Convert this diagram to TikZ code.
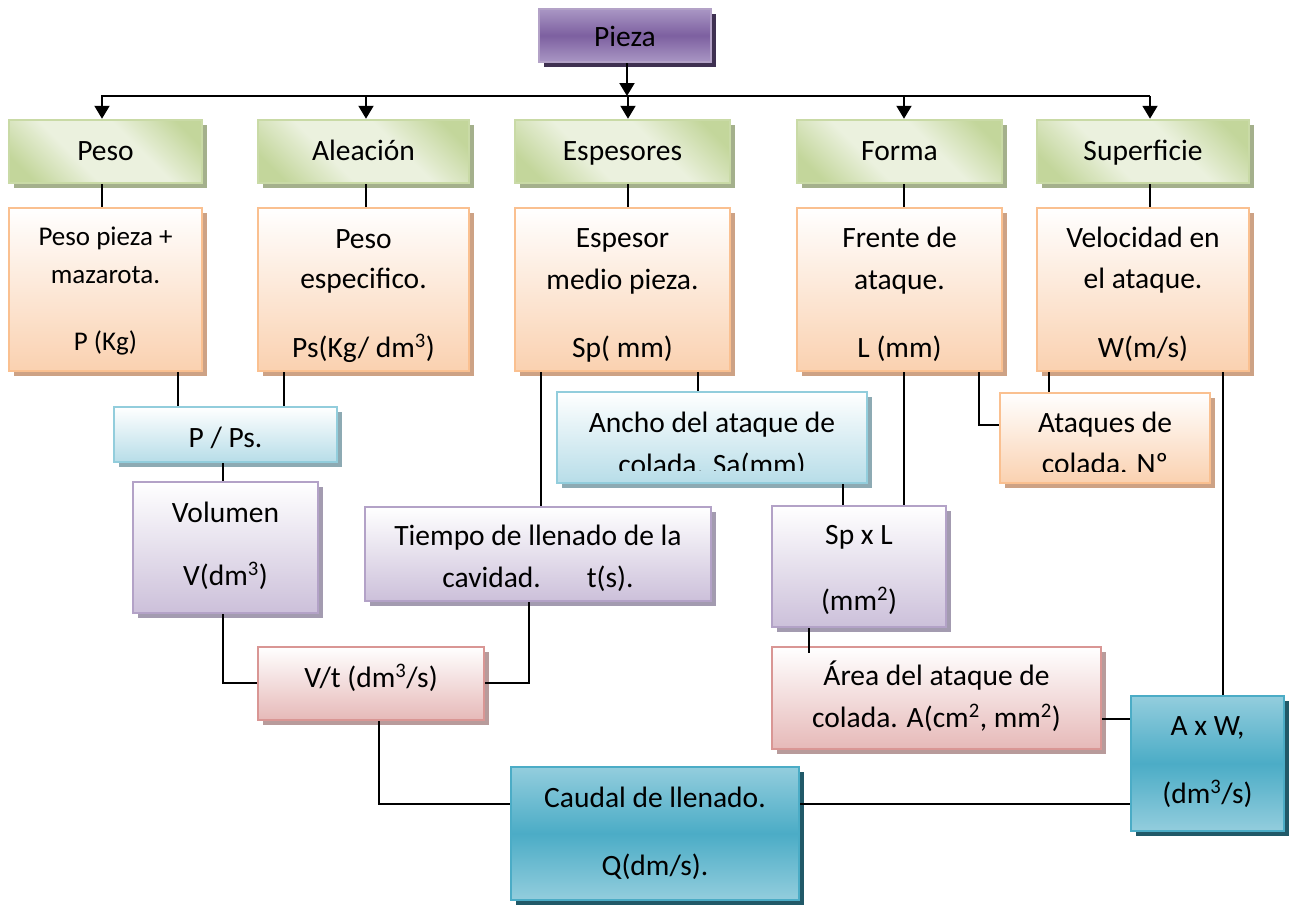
\documentclass[tikz,border=0pt]{standalone}
\usepackage{fontspec}
\setmainfont{Carlito}
\usetikzlibrary{arrows.meta,shadows}
\definecolor{pzL}{HTML}{A996C4}
\definecolor{pzD}{HTML}{7D60A0}
\definecolor{pzB}{HTML}{B3A2C7}
\definecolor{pzS}{HTML}{3F3151}
\definecolor{grD}{HTML}{C3D69B}
\definecolor{grL}{HTML}{EBF1DE}
\definecolor{grB}{HTML}{C9DAA6}
\definecolor{grS}{HTML}{A4B08C}
\definecolor{orF}{HTML}{FAD1B0}
\definecolor{orB}{HTML}{FAC090}
\definecolor{orS}{HTML}{CDA285}
\definecolor{lbF}{HTML}{B7DDE8}
\definecolor{lbB}{HTML}{92CDDC}
\definecolor{lbS}{HTML}{8DAAB3}
\definecolor{lpF}{HTML}{CCC0DA}
\definecolor{lpB}{HTML}{B3A2C7}
\definecolor{lpS}{HTML}{A39BB0}
\definecolor{pkF}{HTML}{E6B9B8}
\definecolor{pkB}{HTML}{D99694}
\definecolor{pkS}{HTML}{B89B9B}
\definecolor{tlL}{HTML}{93CDDD}
\definecolor{tlD}{HTML}{4BACC6}
\definecolor{tlB}{HTML}{4BACC6}
\definecolor{tlS}{HTML}{215968}
\pgfdeclarehorizontalshading{grsh}{100bp}{color(0bp)=(grD); color(22bp)=(grD); color(40bp)=(grL); color(60bp)=(grL); color(78bp)=(grD); color(100bp)=(grD)}
\newcommand\fsz{\fontsize{29.5}{35}\selectfont}
\newcommand\fsy{\fontsize{27}{32}\selectfont}
\begin{document}
\begin{tikzpicture}[x=1pt,y=-1pt,
  box/.style={rectangle, draw, line width=2.5pt, inner sep=0pt},
  shd/.style={general shadow={shadow xshift=5pt, shadow yshift=-5pt, fill=#1, draw=none}},
  pzbox/.style={box, draw=pzB, top color=pzL, bottom color=pzL, middle color=pzD, shd=pzS},
  grbox/.style={box, draw=grB, shading=grsh, shading angle=45, shd=grS, minimum height=63pt},
  orbox/.style={box, draw=orB, top color=white, bottom color=orF, shd=orS},
  lbbox/.style={box, draw=lbB, top color=white, bottom color=lbF, shd=lbS},
  lpbox/.style={box, draw=lpB, top color=white, bottom color=lpF, shd=lpS},
  pkbox/.style={box, draw=pkB, top color=white, bottom color=pkF, shd=pkS},
  tlbox/.style={box, draw=tlB, top color=tlL, bottom color=tlL, middle color=tlD, shd=tlS},
  txt/.style={anchor=base, inner sep=0pt, font=\fsz},
  conn/.style={line width=1.5pt},
  arr/.style={line width=2pt, -{Triangle[width=15pt,length=13pt]}}]
\useasboundingbox (0,0) rectangle (1289,905);
% boxes
\node[pzbox, minimum width=172pt, minimum height=53pt] (pieza) at (625,35.5) {};
\node[grbox, minimum width=193pt] (g1) at (105.5,151.5) {};
\node[grbox, minimum width=211pt] (g2) at (363.5,151.5) {};
\node[grbox, minimum width=215pt] (g3) at (622.5,151.5) {};
\node[grbox, minimum width=205pt] (g4) at (899.5,151.5) {};
\node[grbox, minimum width=212pt] (g5) at (1143,151.5) {};
\node[orbox, minimum width=193pt, minimum height=163pt] (o1) at (105.5,289.5) {};
\node[orbox, minimum width=211pt, minimum height=163pt] (o2) at (363.5,289.5) {};
\node[orbox, minimum width=215pt, minimum height=163pt] (o3) at (622.5,289.5) {};
\node[orbox, minimum width=205pt, minimum height=163pt] (o4) at (899.5,289.5) {};
\node[orbox, minimum width=212pt, minimum height=163pt] (o5) at (1143,289.5) {};
\node[lbbox, minimum width=223pt, minimum height=55pt] (pps) at (225.5,434.5) {};
\node[lpbox, minimum width=185pt, minimum height=131pt] (vol) at (225.5,547.5) {};
\node[lpbox, minimum width=346pt, minimum height=94pt] (tiem) at (538,554) {};
\node[pkbox, minimum width=226pt, minimum height=73pt] (vt) at (371,683.5) {};
\node[lbbox, minimum width=310pt, minimum height=91pt] (ancho) at (712,437.5) {};
\node[orbox, minimum width=210pt, minimum height=90pt] (ataq) at (1105,438) {};
\node[lpbox, minimum width=174pt, minimum height=121pt] (sxl) at (859,566.5) {};
\node[pkbox, minimum width=329pt, minimum height=102pt] (area) at (936.5,698) {};
\node[tlbox, minimum width=153pt, minimum height=135pt] (axw) at (1207.5,763.5) {};
\node[tlbox, minimum width=288pt, minimum height=133pt] (caudal) at (655,833.5) {};
% texts
\node[txt] (tpieza) at (625,46) {Pieza};
\node[txt] (tg1) at (105.5,160.5) {Peso};
\node[txt] (tg2) at (363.5,160.5) {Aleación};
\node[txt] (tg3) at (622.5,160.5) {Espesores};
\node[txt] (tg4) at (899.5,160.5) {Forma};
\node[txt] (tg5) at (1143,160.5) {Superficie};
\node[txt, font=\fsy] (to1a) at (105.5,245) {Peso pieza +};
\node[txt, font=\fsy] (to1b) at (105.5,283) {mazarota.};
\node[txt, font=\fsy] (to1c) at (105.5,350) {P (Kg)};
\node[txt] (to2a) at (363.5,248) {Peso};
\node[txt] (to2b) at (363.5,288) {especifico.};
\node[txt] (to2c) at (363.5,357) {Ps(Kg/ dm\textsuperscript{3})};
\node[txt] (to3a) at (622.5,247) {Espesor};
\node[txt] (to3b) at (622.5,289) {medio pieza.};
\node[txt] (to3c) at (622.5,357) {Sp( mm)};
\node[txt] (to4a) at (899.5,247) {Frente de};
\node[txt] (to4b) at (899.5,289) {ataque.};
\node[txt] (to4c) at (899.5,357) {L (mm)};
\node[txt] (to5a) at (1143,247) {Velocidad en};
\node[txt] (to5b) at (1143,288) {el ataque.};
\node[txt] (to5c) at (1143,357) {W(m/s)};
\node[txt] (tpps) at (225.5,447) {P / Ps.};
\node[txt] (tvola) at (225.5,522) {Volumen};
\node[txt] (tvolb) at (225.5,585) {V(dm\textsuperscript{3})};
\node[txt] (ttiema) at (538,545) {Tiempo de llenado de la};
\node[txt] (ttiemb) at (538,587) {cavidad.\hspace{46pt}t(s).};
\node[txt] (tvt) at (371,687) {V/t (dm\textsuperscript{3}/s)};
\node[txt] (tanchoa) at (712,432) {Ancho del ataque de};
\begin{scope}
\clip (557,392) rectangle (867,470.5);
\node[txt] (tanchob) at (712,474) {colada. Sa(mm)};
\end{scope}
\node[txt] (tataqa) at (1105,432) {Ataques de};
\begin{scope}
\clip (1000,393) rectangle (1210,471);
\node[txt] (tataqb) at (1105,473.5) {colada. Nº};
\end{scope}
\node[txt] (tsxla) at (859,544) {Sp x L};
\node[txt] (tsxlb) at (859,610) {(mm\textsuperscript{2})};
\node[txt] (tareaa) at (936.5,685) {Área del ataque de};
\node[txt] (tareab) at (936.5,727) {colada. A(cm\textsuperscript{2}, mm\textsuperscript{2})};
\node[txt] (taxwa) at (1207.5,735) {A x W,};
\node[txt] (taxwb) at (1207.5,803) {(dm\textsuperscript{3}/s)};
\node[txt] (tcaua) at (655,807) {Caudal de llenado.};
\node[txt] (tcaub) at (655,875) {Q(dm/s).};
% column / row coordinates
\coordinate (xp) at (627,0);
\coordinate (xa) at (102,0);
\coordinate (xb) at (366,0);
\coordinate (xc) at (628,0);
\coordinate (xd) at (904,0);
\coordinate (xe) at (1150,0);
\coordinate (xf) at (178,0);
\coordinate (xg) at (284,0);
\coordinate (xh) at (223,0);
\coordinate (xi) at (529,0);
\coordinate (xj) at (541,0);
\coordinate (xk) at (698,0);
\coordinate (xl) at (843,0);
\coordinate (xm) at (979,0);
\coordinate (xn) at (1049,0);
\coordinate (xo) at (1223,0);
\coordinate (xq) at (809,0);
\coordinate (xr) at (379,0);
\coordinate (busL) at (101,96);
\coordinate (busR) at (1150,96);
\coordinate (ya) at (0,425);
\coordinate (yb) at (0,719);
\coordinate (yc) at (0,804);
\coordinate (yd) at (0,683);
% connectors
\draw[arr] (pieza.south -| xp) -- (busL -| xp);
\draw[conn, line width=2pt] (busL) -- (busR);
\draw[arr] (busL -| xa) -- (g1.north -| xa);
\draw[arr] (busL -| xb) -- (g2.north -| xb);
\draw[arr] (busL -| xc) -- (g3.north -| xc);
\draw[arr] (busL -| xd) -- (g4.north -| xd);
\draw[arr] (busL -| xe) -- (g5.north -| xe);
\draw[conn] (g1.south -| xa) -- (o1.north -| xa);
\draw[conn] (g2.south -| xb) -- (o2.north -| xb);
\draw[conn] (g3.south -| xc) -- (o3.north -| xc);
\draw[conn] (g4.south -| xd) -- (o4.north -| xd);
\draw[conn] (g5.south -| xe) -- (o5.north -| xe);
\draw[conn] (o1.south -| xf) -- (pps.north -| xf);
\draw[conn] (o2.south -| xg) -- (pps.north -| xg);
\draw[conn] (pps.south -| xh) -- (vol.north -| xh);
\draw[conn] (vol.south -| xh) |- (vt.west |- yd);
\draw[conn] (tiem.south -| xi) |- (vt.east |- yd);
\draw[conn] (o3.south -| xj) -- (tiem.north -| xj);
\draw[conn] (o3.south -| xk) -- (ancho.north -| xk);
\draw[conn] (o4.south -| xd) -- (sxl.north -| xd);
\draw[conn] (ancho.south -| xl) -- (sxl.north -| xl);
\draw[conn] (o4.south -| xm) |- (ataq.west |- ya);
\draw[conn] (o5.south -| xn) -- (ataq.north -| xn);
\draw[conn] (o5.south -| xo) -- (axw.north -| xo);
\draw[conn] (sxl.south -| xq) -- ([yshift=-7pt]area.north -| xq);
\draw[conn] (area.east |- yb) -- (axw.west |- yb);
\draw[conn] (vt.south -| xr) |- (caudal.west |- yc);
\draw[conn] (caudal.east |- yc) -- (axw.west |- yc);
\end{tikzpicture}
\end{document}
